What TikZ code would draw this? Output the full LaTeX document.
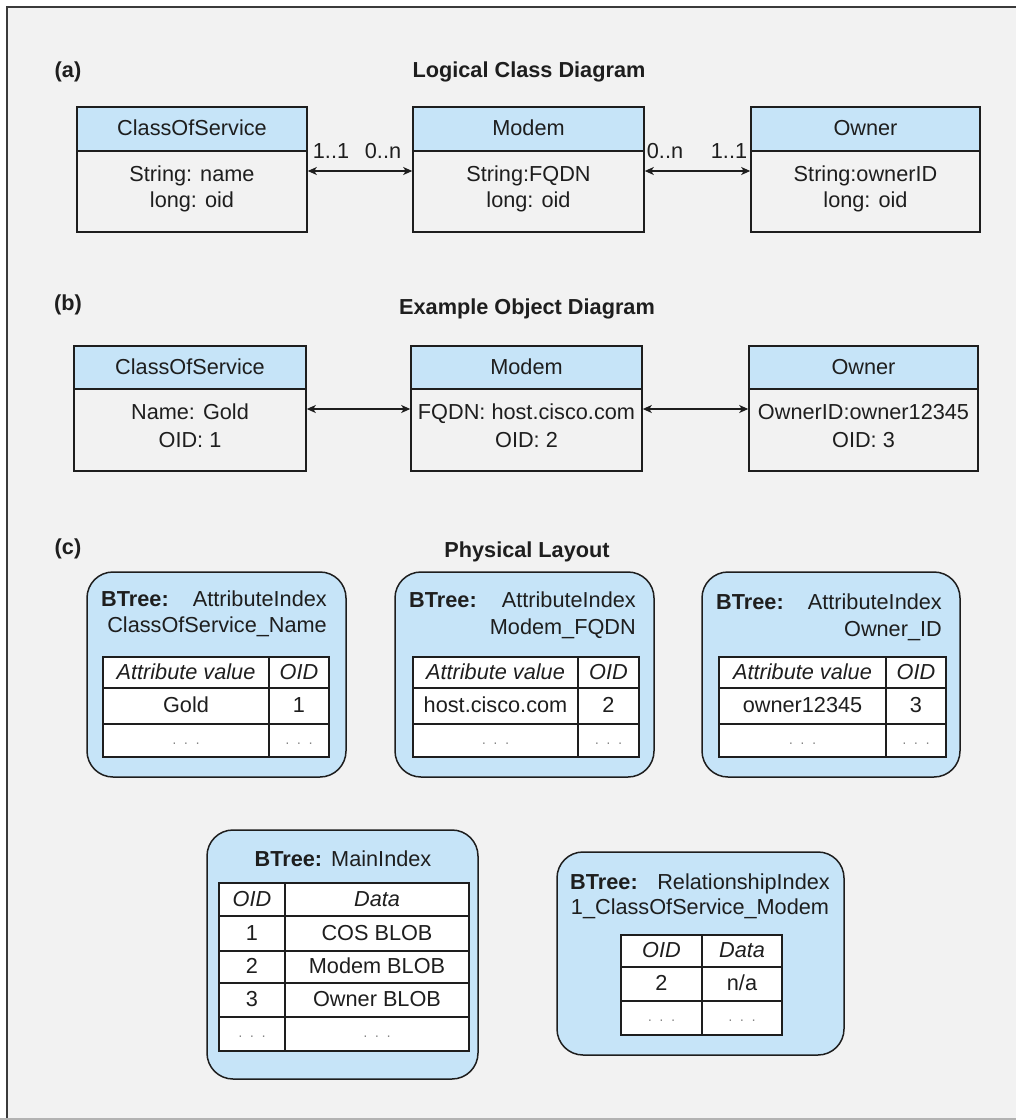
\documentclass[tikz,border=0pt]{standalone}
\usepackage{fontspec}
\setmainfont{Liberation Sans}
\usetikzlibrary{arrows.meta}
\definecolor{bgc}{HTML}{F2F2F2}
\definecolor{hblue}{HTML}{C6E4F8}
\definecolor{ink}{HTML}{1E1E1E}
\definecolor{frm}{HTML}{3A3A3A}
\newcommand\dotsx{{\color{gray}\fontsize{14}{14}\selectfont ·\hspace{7pt}·\hspace{7pt}·}}
\newcommand\cellat[6]{\node[cell, minimum width={#4-#2}, minimum height={#5-#3}] (#1) at ({(#2+#4)/2},{(#3+#5)/2}) {#6};}
\begin{document}
\begin{tikzpicture}[x=1pt,y=-1pt,
  every node/.style={font=\fontsize{21.7}{26}\selectfont, text=ink, inner sep=0pt},
  txt/.style={text height=15.5pt, text depth=2.5pt},
  ttl/.style={txt, font=\fontsize{21.7}{26}\selectfont\bfseries},
  hdr/.style={draw=ink, fill=hblue, line width=1.6pt, txt},
  bdy/.style={draw=ink, line width=1.6pt},
  rbox/.style={draw=ink, fill=hblue, line width=1.5pt, rounded corners=26pt},
  cell/.style={draw=ink, fill=white, line width=1.5pt, txt},
  conn/.style={{Stealth[length=9pt,width=8pt,inset=2.5pt]}-{Stealth[length=9pt,width=8pt,inset=2.5pt]}, line width=1.3pt, draw=ink}
]
\useasboundingbox (0,0) rectangle (1016,1120);
\fill[white] (0,0) rectangle (1016,1120);
\fill[bgc] (7,7) rectangle (1016,1120);
\draw[frm, line width=2pt] (7,1120) -- (7,7) -- (1016,7);
\draw[gray!60, line width=1.5pt] (0,1119) -- (1016,1119);

% ---------- (a)
\node[ttl] (la) at (68,71) {(a)};
\node[ttl] (ta) at (529,71) {Logical Class Diagram};

\node[bdy, minimum width=230, minimum height=81] (cosA_b) at (192,191.5) {};
\node[hdr, minimum width=230, minimum height=44] (cosA_h) at (192,129) {ClassOfService};
\node[txt] (cosA_1) at (192,175) {String: name};
\node[txt] (cosA_2) at (192,201) {long: oid};

\node[bdy, minimum width=231, minimum height=81] (modA_b) at (528.5,191.5) {};
\node[hdr, minimum width=231, minimum height=44] (modA_h) at (528.5,129) {Modem};
\node[txt] (modA_1) at (528.5,175) {String:FQDN};
\node[txt] (modA_2) at (528.5,201) {long: oid};

\node[bdy, minimum width=229, minimum height=81] (ownA_b) at (865.5,191.5) {};
\node[hdr, minimum width=229, minimum height=44] (ownA_h) at (865.5,129) {Owner};
\node[txt] (ownA_1) at (865.5,175) {String:ownerID};
\node[txt] (ownA_2) at (865.5,201) {long: oid};

\draw[conn] (cosA_b.east |- 0,171) -- (modA_b.west |- 0,171);
\draw[conn] (modA_b.east |- 0,171) -- (ownA_b.west |- 0,171);
\node[txt] (m1) at (331,152) {1..1};
\node[txt] (m2) at (383,152) {0..n};
\node[txt] (m3) at (665,152) {0..n};
\node[txt] (m4) at (729,152) {1..1};

% ---------- (b)
\node[ttl] (lb) at (68,304) {(b)};
\node[ttl] (tb) at (527,308) {Example Object Diagram};

\node[bdy, minimum width=232, minimum height=82] (cosB_b) at (190,430) {};
\node[hdr, minimum width=232, minimum height=43] (cosB_h) at (190,367.5) {ClassOfService};
\node[txt] (cosB_1) at (190,413) {Name: Gold};
\node[txt] (cosB_2) at (190,441) {OID: 1};

\node[bdy, minimum width=231, minimum height=82] (modB_b) at (526.5,430) {};
\node[hdr, minimum width=231, minimum height=43] (modB_h) at (526.5,367.5) {Modem};
\node[txt] (modB_1) at (526.5,413) {FQDN: host.cisco.com};
\node[txt] (modB_2) at (526.5,441) {OID: 2};

\node[bdy, minimum width=229, minimum height=82] (ownB_b) at (863.5,430) {};
\node[hdr, minimum width=229, minimum height=43] (ownB_h) at (863.5,367.5) {Owner};
\node[txt] (ownB_1) at (863.5,413) {OwnerID:owner12345};
\node[txt] (ownB_2) at (863.5,441) {OID: 3};

\draw[conn] (cosB_b.east |- 0,409) -- (modB_b.west |- 0,409);
\draw[conn] (modB_b.east |- 0,409) -- (ownB_b.west |- 0,409);

% ---------- (c)
\node[ttl] (lc) at (68,548) {(c)};
\node[ttl] (tc) at (527,551) {Physical Layout};

% box 1
\node[rbox, minimum width=259, minimum height=205] (r1) at (216.5,674.5) {};
\node[txt, anchor=west] (r1a) at (101,600) {\bfseries BTree:};
\node[txt, anchor=east] (r1b) at (327,600) {AttributeIndex};
\node[txt, anchor=east] (r1c) at (327,626) {ClassOfService\_Name};
\cellat{ta11}{103}{657}{269}{688}{\itshape Attribute value}
\cellat{ta12}{269}{657}{329}{688}{\itshape OID}
\cellat{ta21}{103}{688}{269}{724}{Gold}
\cellat{ta22}{269}{688}{329}{724}{1}
\cellat{ta31}{103}{724}{269}{757}{\dotsx}
\cellat{ta32}{269}{724}{329}{757}{\dotsx}

% box 2
\node[rbox, minimum width=259, minimum height=205] (r2) at (524.5,674.5) {};
\node[txt, anchor=west] (r2a) at (409,601) {\bfseries BTree:};
\node[txt, anchor=east] (r2b) at (636,601) {AttributeIndex};
\node[txt, anchor=east] (r2c) at (636,628) {Modem\_FQDN};
\cellat{tb11}{413}{657}{578}{688}{\itshape Attribute value}
\cellat{tb12}{578}{657}{639}{688}{\itshape OID}
\cellat{tb21}{413}{688}{578}{724}{host.cisco.com}
\cellat{tb22}{578}{688}{639}{724}{2}
\cellat{tb31}{413}{724}{578}{757}{\dotsx}
\cellat{tb32}{578}{724}{639}{757}{\dotsx}

% box 3
\node[rbox, minimum width=258, minimum height=205] (r3) at (831,674.5) {};
\node[txt, anchor=west] (r3a) at (716,603) {\bfseries BTree:};
\node[txt, anchor=east] (r3b) at (942,603) {AttributeIndex};
\node[txt, anchor=east] (r3c) at (942,630) {Owner\_ID};
\cellat{tc11}{719}{657}{886}{688}{\itshape Attribute value}
\cellat{tc12}{886}{657}{946}{688}{\itshape OID}
\cellat{tc21}{719}{688}{886}{724}{owner12345}
\cellat{tc22}{886}{688}{946}{724}{3}
\cellat{tc31}{719}{724}{886}{757}{\dotsx}
\cellat{tc32}{886}{724}{946}{757}{\dotsx}

% box 4
\node[rbox, minimum width=271, minimum height=249] (r4) at (342.5,954.5) {};
\node[txt] (r4a) at (343,860) {\bfseries BTree:\hspace{9pt}\mdseries MainIndex};
\cellat{td11}{219}{883}{285}{916}{\itshape OID}
\cellat{td12}{285}{883}{469}{916}{\itshape Data}
\cellat{td21}{219}{916}{285}{951}{1}
\cellat{td22}{285}{916}{469}{951}{COS BLOB}
\cellat{td31}{219}{951}{285}{983}{2}
\cellat{td32}{285}{951}{469}{983}{Modem BLOB}
\cellat{td41}{219}{983}{285}{1017}{3}
\cellat{td42}{285}{983}{469}{1017}{Owner BLOB}
\cellat{td51}{219}{1017}{285}{1051}{\dotsx}
\cellat{td52}{285}{1017}{469}{1051}{\dotsx}

% box 5
\node[rbox, minimum width=287, minimum height=203] (r5) at (700.5,953.5) {};
\node[txt, anchor=west] (r5a) at (570,883) {\bfseries BTree:};
\node[txt, anchor=east] (r5b) at (830,883) {RelationshipIndex};
\node[txt] (r5c) at (700,908) {1\_ClassOfService\_Modem};
\cellat{te11}{621}{935}{702}{967}{\itshape OID}
\cellat{te12}{702}{935}{782}{967}{\itshape Data}
\cellat{te21}{621}{967}{702}{1001}{2}
\cellat{te22}{702}{967}{782}{1001}{n/a}
\cellat{te31}{621}{1001}{702}{1035}{\dotsx}
\cellat{te32}{702}{1001}{782}{1035}{\dotsx}
\end{tikzpicture}
\end{document}
